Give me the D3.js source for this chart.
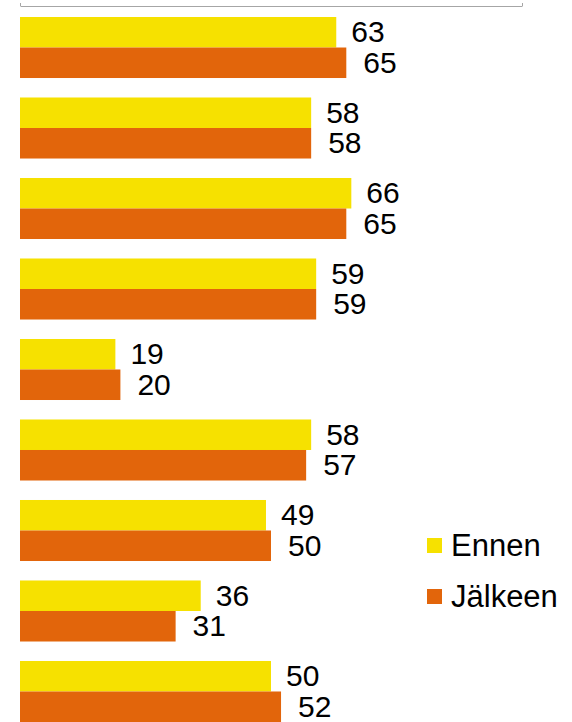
<!DOCTYPE html>
<html>
<head>
<meta charset="utf-8">
<script src="https://cdn.jsdelivr.net/npm/d3@7"></script>
<style>
  body { margin: 0; background: #fff; }
  svg { display: block; font-family: "Liberation Sans", Arial, sans-serif; }
</style>
</head>
<body>
<div id="container"></div>
<script>
const width = 572,
  height = 722

// data
const categories = ["1", "2", "3", "4", "5", "6", "7", "8", "9"]
const ennen = [63, 58, 66, 59, 19, 58, 49, 36, 50]
const jalkeen = [65, 58, 65, 59, 20, 57, 50, 31, 52]
const seriesNames = ["Ennen", "Jälkeen"]
const colors = ["#f6e100", "#e2650b"]

const data = categories.map((c, i) => ({ cat: c, values: [ennen[i], jalkeen[i]] }))

/* SCALES */
const xScale = d3.scaleLinear()
  .domain([0, 100])
  .range([20, 522])

const yScale = d3.scaleBand()
  .domain(categories)
  .range([17, 722])
  .paddingInner(0.242)
  .paddingOuter(0)

const ySub = d3.scaleBand()
  .domain([0, 1])
  .range([0, yScale.bandwidth()])

const svg = d3.select("#container").append("svg")
  .attr("width", width)
  .attr("height", height)

// the thin axis line at the top
const axis = svg.append("g")
  .attr("transform", "translate(0,6)")
  .call(d3.axisTop(xScale).tickValues([0, 100]).tickFormat("").tickSize(3).tickSizeOuter(0))
axis.select(".domain").attr("stroke", "#a6a6a6")
axis.selectAll(".tick line").attr("stroke", "#a6a6a6")

const groups = svg.selectAll("g.group")
  .data(data)
  .join("g")
  .attr("class", "group")
  .attr("transform", d => `translate(0,${yScale(d.cat)})`)

groups.selectAll("rect")
  .data(d => d.values.map((v, i) => ({ v, i })))
  .join("rect")
  .attr("x", xScale(0))
  .attr("y", d => ySub(d.i))
  .attr("width", d => xScale(d.v) - xScale(0))
  .attr("height", ySub.bandwidth())
  .attr("fill", d => colors[d.i])

groups.selectAll("text")
  .data(d => d.values.map((v, i) => ({ v, i })))
  .join("text")
  .attr("x", d => xScale(d.v) + 15 + d.i * 2)
  .attr("y", d => ySub(d.i) + ySub.bandwidth() / 2 + 10)
  .attr("font-size", "30px")
  .attr("fill", "#000")
  .text(d => d.v)

// legend
const legend = svg.append("g")
  .selectAll("g")
  .data(seriesNames)
  .join("g")
  .attr("transform", (d, i) => `translate(427,${538 + i * 51})`)

legend.append("rect")
  .attr("width", 15)
  .attr("height", 15)
  .attr("fill", (d, i) => colors[i])

legend.append("text")
  .attr("x", 24)
  .attr("y", 18)
  .attr("font-size", "31px")
  .attr("fill", "#000")
  .text(d => d)
</script>
</body>
</html>
